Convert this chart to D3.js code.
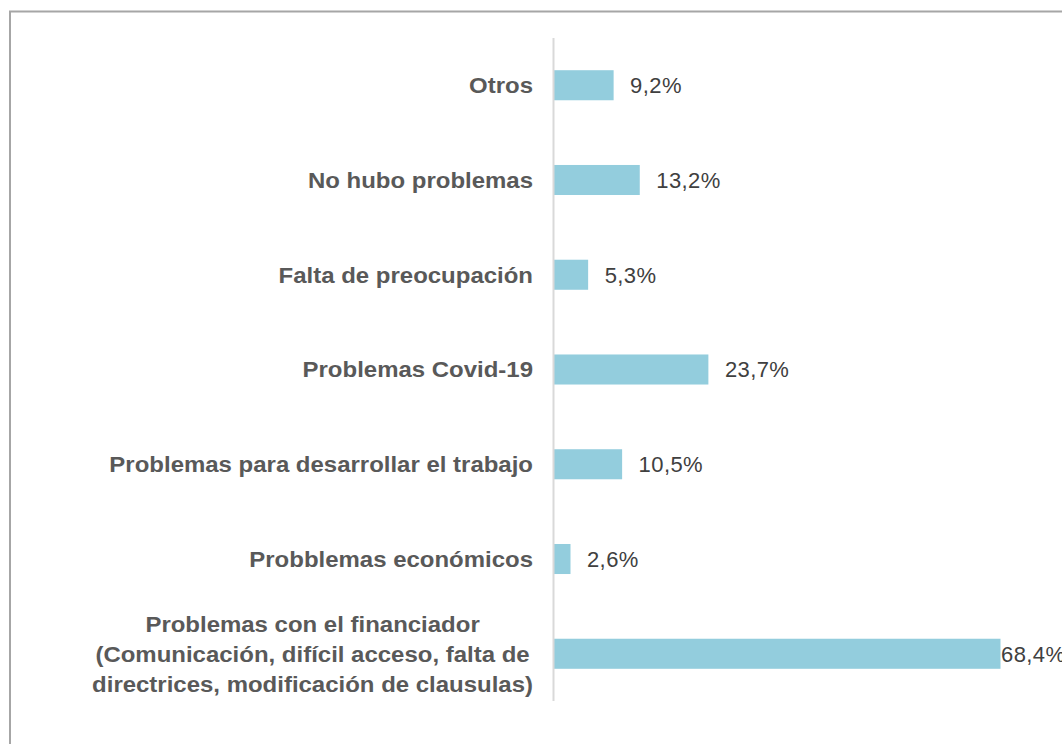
<!DOCTYPE html>
<html><head><meta charset="utf-8">
<script src="https://cdn.jsdelivr.net/npm/d3@7"></script>
<style>html,body{margin:0;padding:0;background:#fff;overflow:hidden}</style>
</head><body>
<svg id="c" width="1062" height="744"></svg>
<script>
const categories = [
  "Otros",
  "No hubo problemas",
  "Falta de preocupación",
  "Problemas Covid-19",
  "Problemas para desarrollar el trabajo",
  "Probblemas económicos",
  "Problemas con el financiador|(Comunicación, difícil acceso, falta de|directrices, modificación de clausulas)"
];
const values = [9.2, 13.2, 5.3, 23.7, 10.5, 2.6, 68.4];
const valueLabels = ["9,2%", "13,2%", "5,3%", "23,7%", "10,5%", "2,6%", "68,4%"];

(function () {
const svg = d3.select("#c");
svg.append("rect").attr("x", 10).attr("y", 11.5).attr("width", 1100).attr("height", 800)
  .attr("fill", "#fff").attr("stroke", "#a6a6a6").attr("stroke-width", 2);

const x0 = 553.5, plotTop = 38, plotBottom = 701;
const x = d3.scaleLinear().domain([0, 68.4]).range([x0, 1000.5]);
const y = d3.scaleBand().domain(categories).range([plotTop, plotBottom]).paddingInner(0.683).paddingOuter(0.34);

const font = "Arial, 'Liberation Sans', sans-serif";

svg.selectAll("rect.bar").data(values).join("rect").attr("class", "bar")
  .attr("x", x(0)).attr("y", (d, i) => y(categories[i]))
  .attr("width", d => x(d) - x(0)).attr("height", y.bandwidth())
  .attr("fill", "#93cddd");

svg.append("line").attr("x1", x0).attr("x2", x0).attr("y1", plotTop).attr("y2", plotBottom)
  .attr("stroke", "#d9d9d9").attr("stroke-width", 2);

svg.selectAll("text.val").data(values).join("text").attr("class", "val")
  .attr("x", d => Math.min(x(d) + 16.5, 1001))
  .attr("y", (d, i) => y(categories[i]) + y.bandwidth() / 2)
  .attr("dy", "0.36em")
  .attr("font-family", font).attr("font-size", 22).attr("letter-spacing", 0.4).attr("fill", "#404040")
  .text((d, i) => valueLabels[i]);

const labelRight = 533;
const sx = 1.09;
categories.forEach((c, i) => {
  const lines = c.split("|");
  const cy = y(c) + y.bandwidth() / 2;
  const g = svg.append("g").attr("transform", `translate(${labelRight},${cy}) scale(${sx},1)`);
  const lh = 30;
  const texts = lines.map((l, j) => g.append("text")
    .attr("y", (j - (lines.length - 1) / 2) * lh)
    .attr("dy", "0.36em")
    .attr("font-family", font).attr("font-size", 22).attr("font-weight", "bold")
    .attr("fill", "#595959").text(l));
  if (lines.length === 1) {
    texts[0].attr("x", 0).attr("text-anchor", "end");
  } else {
    const maxW = d3.max(texts, t => t.node().getComputedTextLength());
    texts.forEach(t => t.attr("x", -maxW / 2).attr("text-anchor", "middle"));
  }
});
})();
</script>
</body></html>
